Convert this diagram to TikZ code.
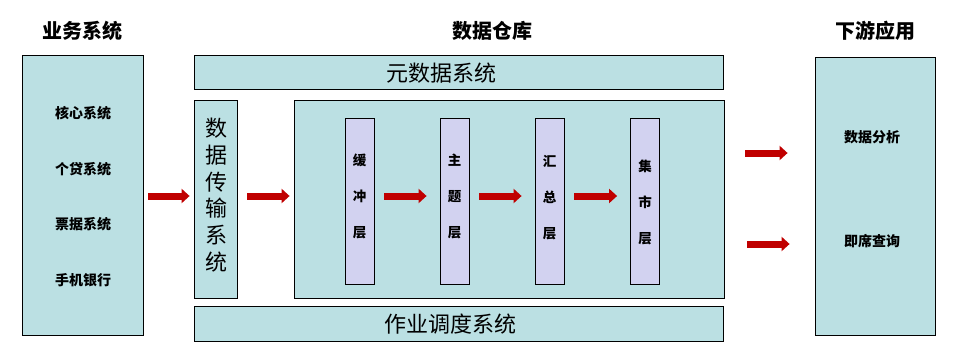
\documentclass[tikz,border=0pt]{standalone}
\usepackage{fontspec}
\setmainfont{Noto Sans CJK SC}
\usetikzlibrary{arrows.meta}
\definecolor{boxfill}{HTML}{BBE0E3}
\definecolor{layerfill}{HTML}{D2D2F0}
\definecolor{arrowred}{HTML}{C00000}
\tikzset{
  panel/.style={draw=black, line width=0.8pt, fill=boxfill, inner sep=0pt},
  layerbox/.style={draw=black, line width=0.8pt, fill=layerfill, inner sep=0pt, minimum width=29pt, minimum height=166pt},
  title/.style={font=\fontsize{20pt}{22pt}\selectfont\bfseries, inner sep=0pt},
  item/.style={font=\fontsize{14pt}{16pt}\selectfont\bfseries, inner sep=0pt},
  bigtext/.style={font=\fontsize{22pt}{26pt}\selectfont, inner sep=0pt},
  layertext/.style={font=\fontsize{13.5pt}{36pt}\selectfont\bfseries, align=center, inner sep=0pt},
  fatarrow/.style={draw=arrowred, line width=7pt, -{Triangle[length=8pt,width=14pt]}},
}
\begin{document}
\begin{tikzpicture}[x=1pt,y=-1pt]
\useasboundingbox (0,0) rectangle (956,359);
% titles
\node[title] (t1) at (82,31) {业务系统};
\node[title] (t2) at (492,31) {数据仓库};
\node[title] (t3) at (875,31) {下游应用};
% left system box
\node[panel, minimum width=121pt, minimum height=280pt] (biz) at (82.5,195) {};
\node[item] (b1) at (83,113) {核心系统};
\node[item] (b2) at (83,169) {个贷系统};
\node[item] (b3) at (83,224) {票据系统};
\node[item] (b4) at (83,280) {手机银行};
% meta & schedule
\node[panel, minimum width=529pt, minimum height=34pt] (meta) at (458.5,72) {};
\node[bigtext] (metat) at (441,73) {元数据系统};
\node[panel, minimum width=529pt, minimum height=35pt] (sched) at (458.5,323.5) {};
\node[bigtext] (schedt) at (450,324) {作业调度系统};
% transfer
\node[panel, minimum width=43pt, minimum height=198pt] (trans) at (215.5,199) {};
\node[font=\fontsize{22pt}{26.8pt}\selectfont, align=center, inner sep=0pt] (transt) at (216,195) {数\\据\\传\\输\\系\\统};
% inner warehouse
\node[panel, minimum width=430pt, minimum height=198pt] (inner) at (509,199) {};
\node[layerbox] (l1) at (359.5,201) {};
\node[layerbox] (l2) at (454.5,201) {};
\node[layerbox] (l3) at (549.5,201) {};
\node[layerbox] (l4) at (645,201) {};
\node[layertext] (l1t) at (359.5,196) {缓\\冲\\层};
\node[layertext] (l2t) at (454.5,196) {主\\题\\层};
\node[layertext] (l3t) at (549.5,198) {汇\\总\\层};
\node[layertext] (l4t) at (645,202) {集\\市\\层};
% right box
\node[panel, minimum width=120pt, minimum height=278pt] (down) at (875,196) {};
\node[item] (d1) at (872,137) {数据分析};
\node[item] (d2) at (872,241) {即席查询};
% arrows
\draw[fatarrow, shorten <=5pt, shorten >=4pt] (biz.east |- 0,196) -- (trans.west |- 0,196);
\draw[fatarrow, shorten <=10pt, shorten >=4pt] (trans.east |- 0,196) -- (inner.west |- 0,196);
\draw[fatarrow, shorten <=10pt, shorten >=13pt] (l1.east |- 0,196) -- (l2.west |- 0,196);
\draw[fatarrow, shorten <=10pt, shorten >=13pt] (l2.east |- 0,196) -- (l3.west |- 0,196);
\draw[fatarrow, shorten <=10pt, shorten >=13pt] (l3.east |- 0,196) -- (l4.west |- 0,196);
\draw[fatarrow, shorten <=21pt, shorten >=27pt] (inner.east |- 0,153) -- (down.west |- 0,153);
\draw[fatarrow, shorten <=23pt, shorten >=25pt] (inner.east |- 0,244) -- (down.west |- 0,244);
\end{tikzpicture}
\end{document}
